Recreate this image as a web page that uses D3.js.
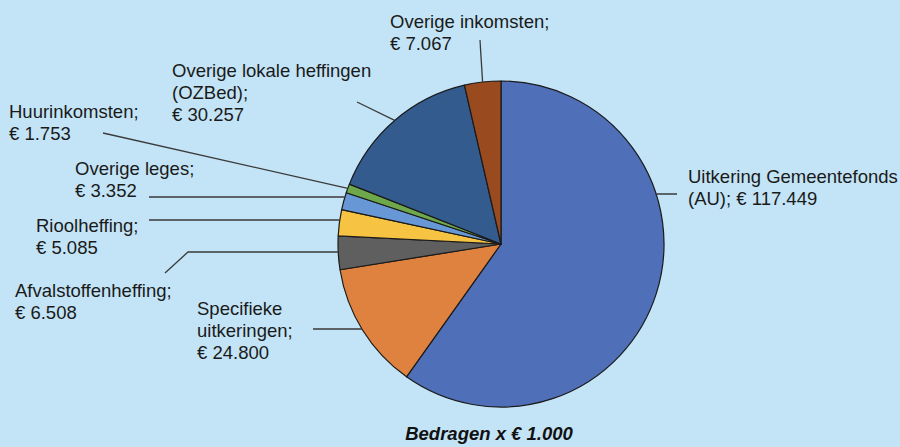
<!DOCTYPE html>
<html>
<head>
<meta charset="utf-8">
<script src="https://cdn.jsdelivr.net/npm/d3@7"></script>
<style>
  html, body { margin: 0; padding: 0; background: #c3e4f6; }
  svg { display: block; font-family: "Liberation Sans", Arial, sans-serif; }
</style>
</head>
<body>
<svg id="chart" width="900" height="447"></svg>
<script>
// Inkomsten (bedragen x € 1.000), clockwise from 12 o'clock
const categories = [
  'Uitkering Gemeentefonds (AU)',
  'Specifieke uitkeringen',
  'Afvalstoffenheffing',
  'Rioolheffing',
  'Overige leges',
  'Huurinkomsten',
  'Overige lokale heffingen (OZBed)',
  'Overige inkomsten'
];
const values = [117449, 24800, 6508, 5085, 3352, 1753, 30257, 7067];
const colors = ['#4f70b8', '#e0823f', '#5f5f5f', '#f7c343', '#6798d5', '#6fa84a', '#345b8e', '#9a4a1f'];

// label text lines as Excel wrapped them
const labelLines = [
  ['Uitkering Gemeentefonds', '(AU); € 117.449'],
  ['Specifieke', 'uitkeringen;', '€ 24.800'],
  ['Afvalstoffenheffing;', '€ 6.508'],
  ['Rioolheffing;', '€ 5.085'],
  ['Overige leges;', '€ 3.352'],
  ['Huurinkomsten;', '€ 1.753'],
  ['Overige lokale heffingen', '(OZBed);', '€ 30.257'],
  ['Overige inkomsten;', '€ 7.067']
];

// label position (left x, first baseline) and leader start; 'h' = horizontal leader
const labelLayout = [
  { x: 688, y: 183, lead: [655, 194], mode: 'h', elbow: [677, 194] },
  { x: 197, y: 315, lead: [313, 329], mode: 'h' },
  { x: 15, y: 297, lead: [165, 273], mode: 'h', elbow: [188, 252] },
  { x: 36, y: 232, lead: [149, 220], mode: 'h' },
  { x: 75, y: 175, lead: [149, 197], mode: 'h' },
  { x: 9, y: 118, lead: [103, 133], mode: 'mid' },
  { x: 172, y: 77, lead: [357, 102], mode: 'mid' },
  { x: 390, y: 28, lead: [480, 40], mode: 'mid' }
];

const cx = 501, cy = 244, radius = 163;
const lineH = 21.8;

const svg = d3.select('#chart');
svg.append('rect').attr('width', 900).attr('height', 447).attr('fill', '#c3e4f6');

const pie = d3.pie().sort(null).value(d => d);
const arcs = pie(values);
const arc = d3.arc().innerRadius(0).outerRadius(radius);

const g = svg.append('g').attr('transform', `translate(${cx},${cy})`);

g.selectAll('path.slice')
  .data(arcs)
  .enter()
  .append('path')
  .attr('class', 'slice')
  .attr('d', arc)
  .attr('fill', (d, i) => colors[i])
  .attr('stroke', '#1a1a1a')
  .attr('stroke-width', 1.2)
  .attr('stroke-linejoin', 'round');

// point on the pie edge where a leader line ends
function edgePoint(d, i) {
  const L = labelLayout[i];
  const mid = (d.startAngle + d.endAngle) / 2;
  if (L.mode === 'h') {
    const yRef = L.elbow ? L.elbow[1] : L.lead[1];
    const dy = yRef - cy;
    const dx = Math.sqrt(radius * radius - dy * dy);
    const side = Math.sin(mid) >= 0 ? 1 : -1;
    return [cx + side * dx, yRef];
  }
  return [cx + radius * Math.sin(mid), cy - radius * Math.cos(mid)];
}

svg.append('g')
  .selectAll('path')
  .data(arcs)
  .enter()
  .append('path')
  .attr('d', (d, i) => {
    const L = labelLayout[i];
    const pts = [L.lead];
    if (L.elbow) pts.push(L.elbow);
    pts.push(edgePoint(d, i));
    return d3.line()(pts);
  })
  .attr('fill', 'none')
  .attr('stroke', '#3a3a3a')
  .attr('stroke-width', 1.3);

// labels
const labels = svg.append('g')
  .selectAll('text')
  .data(labelLines)
  .enter()
  .append('text')
  .attr('x', (d, i) => labelLayout[i].x)
  .attr('y', (d, i) => labelLayout[i].y)
  .attr('font-size', 18.5)
  .attr('fill', '#1a1a1a');

labels.each(function(lines, i) {
  d3.select(this).selectAll('tspan')
    .data(lines)
    .enter()
    .append('tspan')
    .attr('x', labelLayout[i].x)
    .attr('dy', (l, j) => j === 0 ? 0 : lineH)
    .text(l => l);
});

// caption
svg.append('text')
  .attr('x', 489)
  .attr('y', 440)
  .attr('text-anchor', 'middle')
  .attr('font-size', 18.5)
  .attr('font-weight', 'bold')
  .attr('font-style', 'italic')
  .attr('fill', '#111')
  .text('Bedragen x € 1.000');
</script>
</body>
</html>
